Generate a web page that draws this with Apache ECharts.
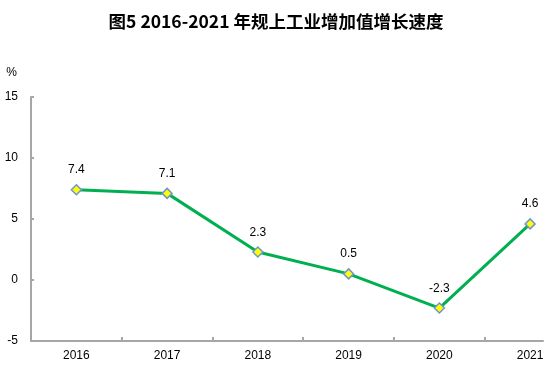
<!DOCTYPE html>
<html>
<head>
<meta charset="utf-8">
<script src="https://cdn.jsdelivr.net/npm/echarts@6/dist/echarts.min.js"></script>
<style>
html,body{margin:0;padding:0;background:#fff;}
#c{width:552px;height:371px;}
</style>
</head>
<body>
<div id="c"></div>
<script>
var categories = ['2016', '2017', '2018', '2019', '2020', '2021'];
var growth = [7.4, 7.1, 2.3, 0.5, -2.3, 4.6];
var yTicks = [-5, 0, 5, 10, 15];

var catIndex = categories.map(function (c, i) { return i; });
var boundaries = categories.slice(1).map(function (c, i) { return i + 0.5; });
var points = growth.map(function (v, i) { return [i, v]; });

var chart = echarts.init(document.getElementById('c'), null, {renderer: 'canvas'});
chart.setOption({
  animation: false,
  backgroundColor: '#fff',
  title: {
    text: '图5 2016-2021 年规上工业增加值增长速度',
    left: 'center',
    top: 8,
    textStyle: {
      fontFamily: 'Noto Sans CJK SC',
      fontSize: 17.5,
      fontWeight: 'bold',
      color: '#000'
    }
  },
  grid: {left: 31, top: 97, bottom: 30, right: 9, containLabel: false},
  xAxis: {
    type: 'value',
    min: -0.5,
    max: 5.142,
    splitLine: {show: false},
    axisLine: {onZero: false, lineStyle: {color: '#a6a6a6', width: 2}},
    axisTick: {show: true, inside: true, length: 4, customValues: boundaries, lineStyle: {color: '#a6a6a6', width: 2}},
    axisLabel: {
      customValues: catIndex,
      formatter: function (v) { return categories[Math.round(v)]; },
      color: '#000', fontFamily: 'Liberation Sans', fontSize: 12, margin: 9
    }
  },
  yAxis: {
    type: 'value',
    min: yTicks[0],
    max: yTicks[yTicks.length - 1],
    interval: 5,
    name: '%',
    nameLocation: 'end',
    nameGap: 18,
    nameTextStyle: {color: '#000', fontFamily: 'Liberation Sans', fontSize: 12, align: 'right', padding: [0, 14, 0, 0]},
    splitLine: {show: false},
    axisLine: {show: true, onZero: false, lineStyle: {color: '#a6a6a6', width: 2}},
    axisTick: {show: true, inside: true, length: 3, lineStyle: {color: '#a6a6a6', width: 2}},
    axisLabel: {color: '#000', fontFamily: 'Liberation Sans', fontSize: 12, margin: 13}
  },
  series: [{
    type: 'line',
    data: points,
    symbol: 'diamond',
    symbolSize: 10,
    lineStyle: {color: '#00b050', width: 3},
    itemStyle: {color: '#ffff00', borderColor: '#6f94cf', borderWidth: 1.5},
    label: {
      show: true,
      position: 'top',
      distance: 8,
      formatter: function (p) { return p.value[1]; },
      color: '#000',
      fontFamily: 'Liberation Sans',
      fontSize: 12
    }
  }]
});
</script>
</body>
</html>
